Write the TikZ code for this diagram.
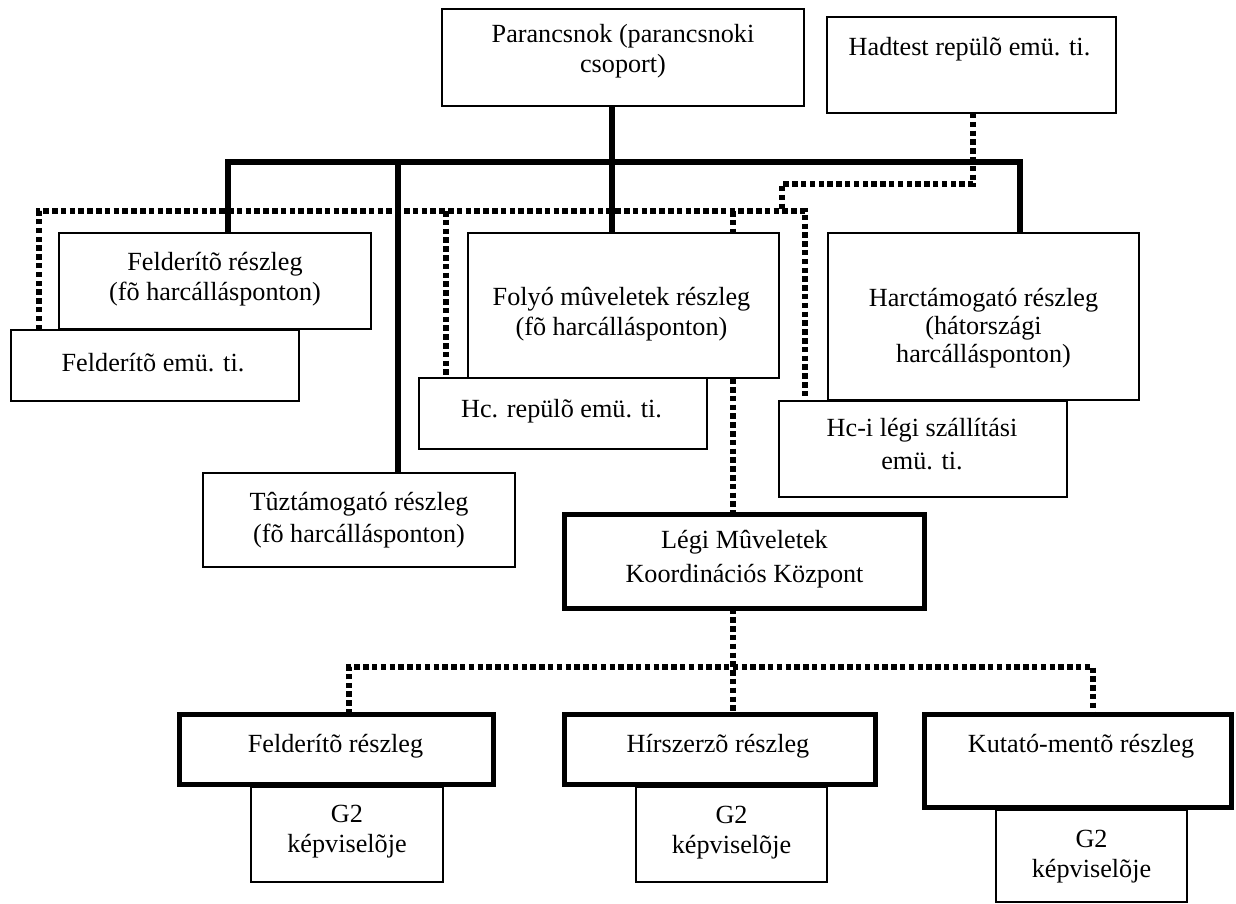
\documentclass[tikz,border=0pt]{standalone}
\usepackage{fontspec}
\setmainfont{Liberation Serif}
\begin{document}
\begin{tikzpicture}[x=1pt,y=-1pt,
  box/.style={draw=black, line width=1.2pt, fill=white, inner sep=0pt, outer sep=0pt},
  heavybox/.style={box, line width=5pt},
  lbl/.style={inner sep=0pt, align=center, anchor=north,
              font=\fontsize{26.2pt}{30pt}\selectfont},
  solidlink/.style={draw=black, line width=6pt, line join=miter},
  dotlink/.style={draw=black, line width=5.5pt, dash pattern=on 5.5pt off 3.3pt}
]
\useasboundingbox (0,0) rectangle (1236,904);

% junction points of the connector network
\coordinate (spine) at (612,162);
\coordinate (busL) at (228,162);
\coordinate (busT) at (398,162);
\coordinate (busR) at (1020,162);
\coordinate (hd1) at (973,184);
\coordinate (hd2) at (782,184);
\coordinate (dl) at (39,211);
\coordinate (dA) at (446,211);
\coordinate (dB) at (733,211);
\coordinate (dr) at (805,211);
\coordinate (lb) at (733,667);
\coordinate (lbL) at (349,667);
\coordinate (lbR) at (1093,667);

% the boxes are first placed invisibly so the links can refer to them
\begin{scope}[box/.append style={draw=none, fill=none}]
\path
  (623,57.5)    node[box, minimum width=362, minimum height=97]  (cmd) {}
  (971.5,65)    node[box, minimum width=289, minimum height=96]  (hadtest) {}
  (215,281)     node[box, minimum width=312, minimum height=96]  (feld1) {}
  (623.5,305.5) node[box, minimum width=311, minimum height=145] (folyo) {}
  (983.5,316.5) node[box, minimum width=311, minimum height=167] (harc) {}
  (155,365.5)   node[box, minimum width=288, minimum height=71]  (feldemu) {}
  (563,413.5)   node[box, minimum width=288, minimum height=71]  (hcrep) {}
  (923,449)     node[box, minimum width=288, minimum height=96]  (hclegi) {}
  (359,520)     node[box, minimum width=312, minimum height=94]  (tuz) {}
  (744.5,561.5) node[box, minimum width=360, minimum height=94]  (lmkk) {}
  (336.5,749.5) node[box, minimum width=314, minimum height=70]  (bfeld) {}
  (720,749.5)   node[box, minimum width=311, minimum height=70]  (hirsz) {}
  (1078,761)    node[box, minimum width=307, minimum height=93]  (kutato) {};
\end{scope}

% dotted liaison links
\draw[dotlink] (hd1 |- hadtest.south) -- (hd1) -- (hd2) -- (hd2 |- dl);
\draw[dotlink] (dl |- feldemu.north) -- (dl) -- (dr) -- (dr |- hclegi.north);
\draw[dotlink] (dA) -- (dA |- hcrep.north);
\draw[dotlink] (dB) -- (dB |- lmkk.north);
\draw[dotlink] (lb |- lmkk.south) -- (lb |- hirsz.north);
\draw[dotlink] (lbL |- bfeld.north) -- (lbL) -- (lbR) -- (lbR |- kutato.north);

% command links
\draw[solidlink] (spine |- cmd.south) -- (spine |- folyo.north);
\draw[solidlink] (busL |- feld1.north) -- (busL) -- (busR) -- (busR |- harc.north);
\draw[solidlink] (busT) -- (busT |- tuz.north);

% visible boxes
\draw[box] (cmd.north west) rectangle (cmd.south east);
\draw[box] (hadtest.north west) rectangle (hadtest.south east);
\draw[box] (feld1.north west) rectangle (feld1.south east);
\draw[box] (feldemu.north west) rectangle (feldemu.south east);
\draw[box] (folyo.north west) rectangle (folyo.south east);
\draw[box] (hcrep.north west) rectangle (hcrep.south east);
\draw[box] (harc.north west) rectangle (harc.south east);
\draw[box] (hclegi.north west) rectangle (hclegi.south east);
\draw[box] (tuz.north west) rectangle (tuz.south east);
\draw[heavybox] (lmkk.north west) rectangle (lmkk.south east);
\node[box, minimum width=192, minimum height=95] (bfeldg2) at (347,834.5) {};
\node[box, minimum width=191, minimum height=95] (hirszg2) at (731.5,834.5) {};
\node[box, minimum width=191, minimum height=92] (kutatog2) at (1091.5,856) {};
\draw[heavybox] (bfeld.north west) rectangle (bfeld.south east);
\draw[heavybox] (hirsz.north west) rectangle (hirsz.south east);
\draw[heavybox] (kutato.north west) rectangle (kutato.south east);

% box texts
\node[lbl] (cmd-t)      at (623,21.7)    {\strut Parancsnok (parancsnoki\\csoport)};
\node[lbl] (hadtest-t)  at (969.5,34)    {\strut Hadtest repülõ emü. ti.};
\node[lbl] (feld1-t)    at (215,249.7)   {\strut Felderítõ részleg\\ (fõ harcállásponton)};
\node[lbl] (feldemu-t)  at (153,350.7)   {\strut Felderítõ emü. ti.};
\node[lbl] (folyo-t)    at (621.5,284.7) {\strut Folyó mûveletek részleg\\ (fõ harcállásponton)};
\node[lbl] (hcrep-t)    at (561.5,396)   {\strut Hc. repülõ emü. ti.};
\node[lbl] (harc-t)     at (983.5,285.7) {\strut Harctámogató részleg\\[-2pt](hátországi\\[-2pt]harcállásponton)};
\node[lbl] (hclegi-t)   at (922,415.5)   {\strut Hc-i légi szállítási\\[3pt]emü. ti.};
\node[lbl] (tuz-t)      at (359,489)     {\strut Tûztámogató részleg\\[2pt] (fõ harcállásponton)};
\node[lbl] (lmkk-t)     at (744.5,527.3) {\strut Légi Mûveletek\\[4pt]Koordinációs Központ};
\node[lbl] (bfeld-t)    at (335.5,731)   {\strut Felderítõ részleg};
\node[lbl] (bfeldg2-t)  at (347,801)     {\strut G2\\képviselõje};
\node[lbl] (hirsz-t)    at (718,731)     {\strut Hírszerzõ részleg};
\node[lbl] (hirszg2-t)  at (731.5,802)   {\strut G2\\képviselõje};
\node[lbl] (kutato-t)   at (1081,731)    {\strut Kutató-mentõ részleg};
\node[lbl] (kutatog2-t) at (1091.5,826)  {\strut G2\\képviselõje};
\end{tikzpicture}
\end{document}
